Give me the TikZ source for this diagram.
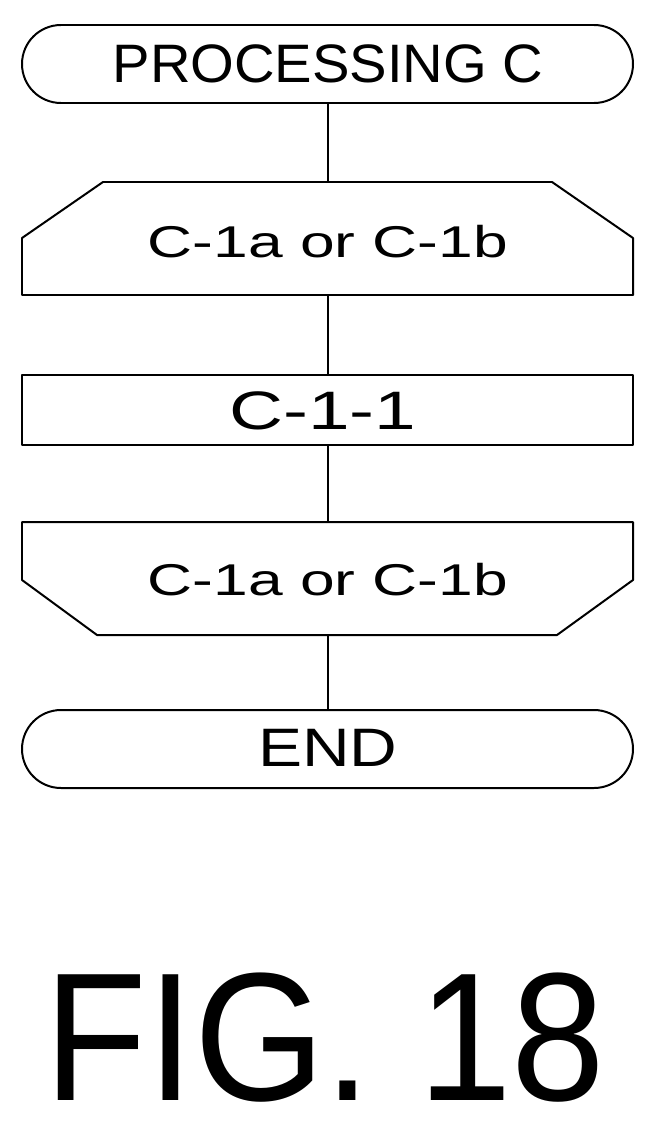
\documentclass[tikz,border=0pt]{standalone}
\usepackage{fontspec}
\setmainfont{Liberation Sans}
\tikzset{
  outline/.style={line width=1.7pt, line join=round},
  boxtext/.style={inner sep=0pt, font=\fontsize{44}{44}\selectfont},
  looptext/.style={inner sep=0pt, font=\fontsize{38}{38}\selectfont}
}
\begin{document}
\begin{tikzpicture}[x=0.03cm, y=-0.03cm]
                \useasboundingbox (0, 0) rectangle (655, 1121);

                % terminals
                \draw[outline, rounded corners=39*0.03cm] (22, 25) rectangle (633, 103);
                \draw[outline, rounded corners=39*0.03cm] (22, 710) rectangle (633, 788);

                % loop start, process, loop end
                \draw[outline] (22, 238) -- (103, 182) -- (552, 182) -- (633, 238) -- (633, 295) -- (22, 295) -- cycle;
                \draw[outline] (22, 375) rectangle (633, 445);
                \draw[outline] (22, 522) -- (633, 522) -- (633, 580) -- (557, 635) -- (97, 635) -- (22, 580) -- cycle;

                \node[boxtext] (proc) at (328, 64) {\scalebox{1.09}[1.05]{PROCESSING C}};
                \node[looptext] (loopa) at (328, 242) {\scalebox{1.4}[1]{C-1a or C-1b}};
                \node[boxtext] (step) at (323, 411) {\scalebox{1.45}[1.05]{C-1-1}};
                \node[looptext] (loopb) at (328, 580) {\scalebox{1.4}[1]{C-1a or C-1b}};
                \node[boxtext] (fin) at (328, 748) {\scalebox{1.28}[1.05]{END}};

                \coordinate (procB) at (328, 103);
                \coordinate (loopaT) at (328, 182);
                \coordinate (loopaB) at (328, 295);
                \coordinate (stepT) at (328, 375);
                \coordinate (stepB) at (328, 445);
                \coordinate (loopbT) at (328, 522);
                \coordinate (loopbB) at (328, 635);
                \coordinate (finT) at (328, 710);

                \draw[outline] (procB) -- (loopaT);
                \draw[outline] (loopaB) -- (stepT);
                \draw[outline] (stepB) -- (loopbT);
                \draw[outline] (loopbB) -- (finT);

                \node[inner sep=0pt, anchor=base, font=\fontsize{156}{156}\selectfont] (fig) at (325, 1100) {\scalebox{0.92}[1]{FIG. 18}};
\end{tikzpicture}
\end{document}
